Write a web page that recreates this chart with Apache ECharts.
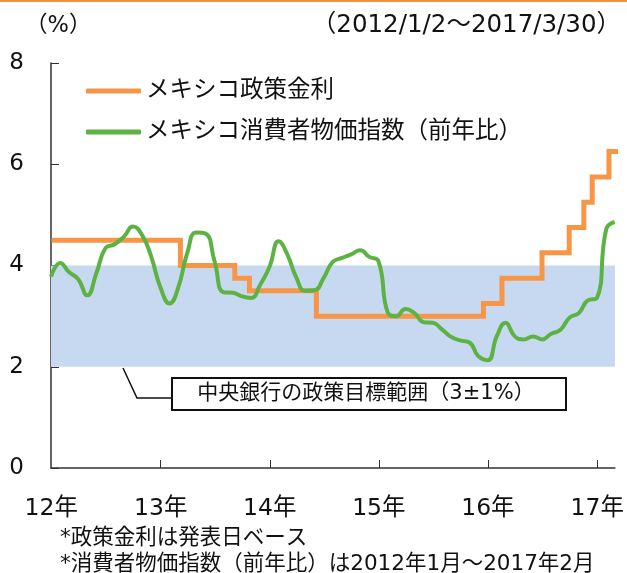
<!DOCTYPE html>
<html>
<head>
<meta charset="utf-8">
<script src="https://cdn.jsdelivr.net/npm/echarts@6/dist/echarts.min.js"></script>
<style>
html,body{margin:0;padding:0;background:#fff;}
#chart{width:627px;height:573px;}
</style>
</head>
<body>
<div id="chart"></div>
<script>
// ---- data ----
var FONT = "'DejaVu Sans', 'Noto Sans CJK JP', sans-serif";
var seriesNames = ['メキシコ政策金利', 'メキシコ消費者物価指数（前年比）'];

// policy rate: announcement dates and the new rate (%)
var rateDates = ['2012-01-02','2013-03-08','2013-09-06','2013-10-25','2014-06-06','2015-12-17',
                 '2016-02-17','2016-06-30','2016-09-29','2016-11-17','2016-12-15','2017-02-09','2017-03-30'];
var rateValues = [4.5, 4.0, 3.75, 3.5, 3.0, 3.25, 3.75, 4.25, 4.75, 5.25, 5.75, 6.25, 6.25];

// CPI YoY (%), plotted at month end
var cpiDates = ['2011-12-31',
  '2012-01-31','2012-02-29','2012-03-31','2012-04-30','2012-05-31','2012-06-30','2012-07-31','2012-08-31','2012-09-30','2012-10-31','2012-11-30','2012-12-31',
  '2013-01-31','2013-02-28','2013-03-31','2013-04-30','2013-05-31','2013-06-30','2013-07-31','2013-08-31','2013-09-30','2013-10-31','2013-11-30','2013-12-31',
  '2014-01-31','2014-02-28','2014-03-31','2014-04-30','2014-05-31','2014-06-30','2014-07-31','2014-08-31','2014-09-30','2014-10-31','2014-11-30','2014-12-31',
  '2015-01-31','2015-02-28','2015-03-31','2015-04-30','2015-05-31','2015-06-30','2015-07-31','2015-08-31','2015-09-30','2015-10-31','2015-11-30','2015-12-31',
  '2016-01-31','2016-02-29','2016-03-31','2016-04-30','2016-05-31','2016-06-30','2016-07-31','2016-08-31','2016-09-30','2016-10-31','2016-11-30','2016-12-31',
  '2017-01-31','2017-02-28'];
var cpiValues = [3.78,
  4.05,3.87,3.73,3.41,3.85,4.34,4.42,4.57,4.77,4.60,4.18,3.57,
  3.25,3.55,4.25,4.65,4.63,4.09,3.47,3.46,3.39,3.36,3.62,3.97,
  4.48,4.23,3.76,3.50,3.51,3.75,4.07,4.15,4.22,4.30,4.17,4.08,
  3.07,3.00,3.14,3.06,2.88,2.87,2.74,2.59,2.52,2.48,2.21,2.13,
  2.61,2.87,2.60,2.54,2.60,2.54,2.65,2.73,2.97,3.06,3.31,3.36,
  4.72,4.86];

// target band (3±1%)
var bandLow = 2, bandHigh = 4;

// axis ticks
var tickYears = [2012, 2013, 2014, 2015, 2016, 2017];
var axisStart = '2011-12-31', axisEnd = '2017-03-01';

var texts = {
  unit: '（%）',
  period: '（2012/1/2～2017/3/30）',
  band: '中央銀行の政策目標範囲（3±1%）',
  note1: '*政策金利は発表日ベース',
  note2: '*消費者物価指数（前年比）は2012年1月～2017年2月'
};

// ---- chart ----
function ts(s) { var p = s.split('-'); return Date.UTC(+p[0], +p[1] - 1, +p[2]); }
function zip(a, b) { return a.map(function (d, i) { return [ts(d), b[i]]; }); }
var yearStamps = tickYears.map(function (y) { return Date.UTC(y, 0, 1); });

var chart = echarts.init(document.getElementById('chart'), null, {renderer: 'canvas'});
chart.setOption({
  animation: false,
  backgroundColor: '#fff',
  textStyle: {fontFamily: FONT},
  grid: {left: 51, right: 11, top: 63, bottom: 105, containLabel: false},
  legend: {
    orient: 'vertical', left: 81, top: 73,
    itemWidth: 55, itemHeight: 5, itemGap: 15,
    textStyle: {fontSize: 23.5, color: '#111', fontFamily: FONT, lineHeight: 26},
    data: [{name: seriesNames[0], icon: 'roundRect'}, {name: seriesNames[1], icon: 'roundRect'}]
  },
  xAxis: {
    type: 'value',
    min: ts(axisStart), max: ts(axisEnd),
    axisLine: {lineStyle: {color: '#333', width: 1.5}},
    axisTick: {show: true, inside: true, length: 8, customValues: yearStamps.slice(1), lineStyle: {color: '#333', width: 1}},
    axisLabel: {
      customValues: yearStamps, fontSize: 23.5, color: '#111', margin: 29, fontFamily: FONT,
      formatter: function (v) { return (new Date(v).getUTCFullYear() % 100) + '年'; }
    },
    splitLine: {show: false}
  },
  yAxis: {
    type: 'value', min: 0, max: 8, interval: 2,
    axisLine: {show: true, lineStyle: {color: '#333', width: 1.5}},
    axisTick: {show: true, inside: true, length: 8, lineStyle: {color: '#333'}},
    axisLabel: {fontSize: 23, color: '#111', margin: 27, fontFamily: FONT},
    splitLine: {show: false}
  },
  series: [
    {
      name: seriesNames[0], type: 'line', step: 'end',
      data: zip(rateDates, rateValues),
      showSymbol: false, symbol: 'none',
      color: '#F79646',
      lineStyle: {color: '#F79646', width: 5, join: 'miter'},
      markArea: {
        silent: true,
        itemStyle: {color: '#C6D9F0'},
        data: [[{yAxis: bandLow}, {yAxis: bandHigh}]]
      },
      z: 2
    },
    {
      name: seriesNames[1], type: 'line', smooth: 0.5,
      data: zip(cpiDates, cpiValues),
      showSymbol: false, symbol: 'none',
      color: '#5CB344',
      lineStyle: {color: '#5CB344', width: 4},
      z: 3
    }
  ],
  graphic: [
    {type: 'rect', shape: {x: 0, y: 0, width: 627, height: 2}, style: {fill: '#F0913F'}},
    {type: 'text', left: 25, top: 15, style: {text: texts.unit, fontSize: 22.5, fill: '#111', fontFamily: FONT}},
    {type: 'text', right: 6, top: 13, style: {text: texts.period, fontSize: 24.5, fill: '#111', fontFamily: FONT}},
    {type: 'polyline', shape: {points: [[123, 368], [137, 398], [171, 398]]}, style: {stroke: '#111', lineWidth: 1.5, fill: null}},
    {type: 'rect', shape: {x: 172, y: 378, width: 394, height: 32}, style: {stroke: '#111', lineWidth: 2, fill: '#fff'}},
    {type: 'text', x: 366, y: 394, style: {text: texts.band, fontSize: 21, fill: '#111', align: 'center', verticalAlign: 'middle', fontFamily: FONT}},
    {type: 'text', x: 60, y: 538, style: {text: texts.note1, fontSize: 21.5, fill: '#111', verticalAlign: 'middle', fontFamily: FONT}},
    {type: 'text', x: 60, y: 564, style: {text: texts.note2, fontSize: 21.5, fill: '#111', verticalAlign: 'middle', fontFamily: FONT}}
  ]
});
</script>
</body>
</html>
